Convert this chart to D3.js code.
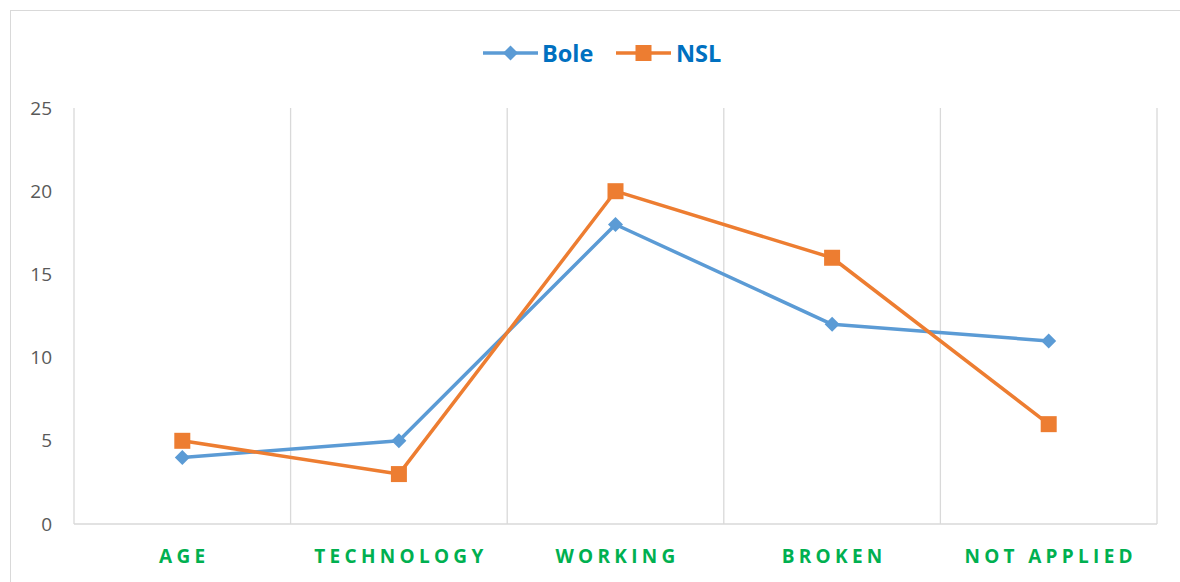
<!DOCTYPE html>
<html><head><meta charset="utf-8">
<script src="https://cdn.jsdelivr.net/npm/d3@7"></script>
<style>body{margin:0;background:#fff}svg{display:block}</style>
</head><body>
<svg id="c" width="1180" height="582"></svg>
<script>
const categories = ["AGE","TECHNOLOGY","WORKING","BROKEN","NOT APPLIED"];
const bole = [4,5,18,12,11];
const nsl = [5,3,20,16,6];
const yTicks = [0,5,10,15,20,25];
const seriesNames = ["Bole","NSL"];

const svg = d3.select("#c");
const font = "'Open Sans', 'Liberation Sans', sans-serif";
// outer border
svg.append("rect").attr("x",10.5).attr("y",10.5).attr("width",1180).attr("height",600)
  .attr("fill","none").attr("stroke","#d9d9d9").attr("stroke-width",1);

const x = d3.scaleBand().domain(categories).range([74,1157]);
const y = d3.scaleLinear().domain([0,25]).range([524,108]);

// vertical gridlines at category boundaries
const bounds = categories.map(c=>x(c)).concat([x.range()[1]]);
svg.append("g").selectAll("line").data(bounds).join("line")
  .attr("x1",d=>d).attr("x2",d=>d).attr("y1",y(25)).attr("y2",y(0))
  .attr("stroke","#d9d9d9").attr("stroke-width",1.3);
// baseline
svg.append("line").attr("x1",74).attr("x2",1157).attr("y1",y(0)).attr("y2",y(0))
  .attr("stroke","#d9d9d9").attr("stroke-width",1.3);

// y axis labels
const ya = svg.append("g").attr("transform","translate(52,0)")
  .call(d3.axisLeft(y).tickValues(yTicks).tickSize(0).tickPadding(0));
ya.select(".domain").remove();
ya.selectAll("text").attr("fill","#595959").style("font-size","19px").style("font-family",font);

// x axis labels
const xa = svg.append("g").attr("transform",`translate(0,${y(0)})`)
  .call(d3.axisBottom(x).tickSize(0).tickPadding(26));
xa.select(".domain").remove();
xa.selectAll("text").attr("fill","#00b050").style("font-size","19px").style("font-weight","bold")
  .style("font-family",font).style("letter-spacing","4.3px").attr("dx","2px");

const cx = d => x(d) + x.bandwidth()/2;
const line = d3.line().x((d,i)=>cx(categories[i])).y(d=>y(d));

svg.append("path").datum(bole).attr("d",line).attr("fill","none").attr("stroke","#5b9bd5").attr("stroke-width",3.5).attr("stroke-linejoin","round");
svg.append("path").datum(nsl).attr("d",line).attr("fill","none").attr("stroke","#ed7d31").attr("stroke-width",3.5).attr("stroke-linejoin","round");

const diamond = (g, px, py, s) => g.append("path")
  .attr("d",`M${px},${py-s}L${px+s},${py}L${px},${py+s}L${px-s},${py}Z`).attr("fill","#5b9bd5");
const square = (g, px, py, s) => g.append("rect")
  .attr("x",px-s).attr("y",py-s).attr("width",2*s).attr("height",2*s).attr("fill","#ed7d31");

const mk = svg.append("g");
bole.forEach((v,i)=>diamond(mk, cx(categories[i]), y(v), 7.5));
nsl.forEach((v,i)=>square(mk, cx(categories[i]), y(v), 8));

// legend
const lg = svg.append("g");
lg.append("line").attr("x1",483).attr("x2",538).attr("y1",53).attr("y2",53).attr("stroke","#5b9bd5").attr("stroke-width",3.5);
diamond(lg, 510.5, 53, 7.5);
lg.append("text").attr("x",542).attr("y",62).text(seriesNames[0]).attr("fill","#0070c0")
  .style("font-size","23.5px").style("font-weight","bold").style("font-family",font);
lg.append("line").attr("x1",616).attr("x2",671).attr("y1",53).attr("y2",53).attr("stroke","#ed7d31").attr("stroke-width",3.5);
square(lg, 643.5, 53, 8);
lg.append("text").attr("x",676).attr("y",62).text(seriesNames[1]).attr("fill","#0070c0")
  .style("font-size","23.5px").style("font-weight","bold").style("font-family",font);
</script>
</body></html>
